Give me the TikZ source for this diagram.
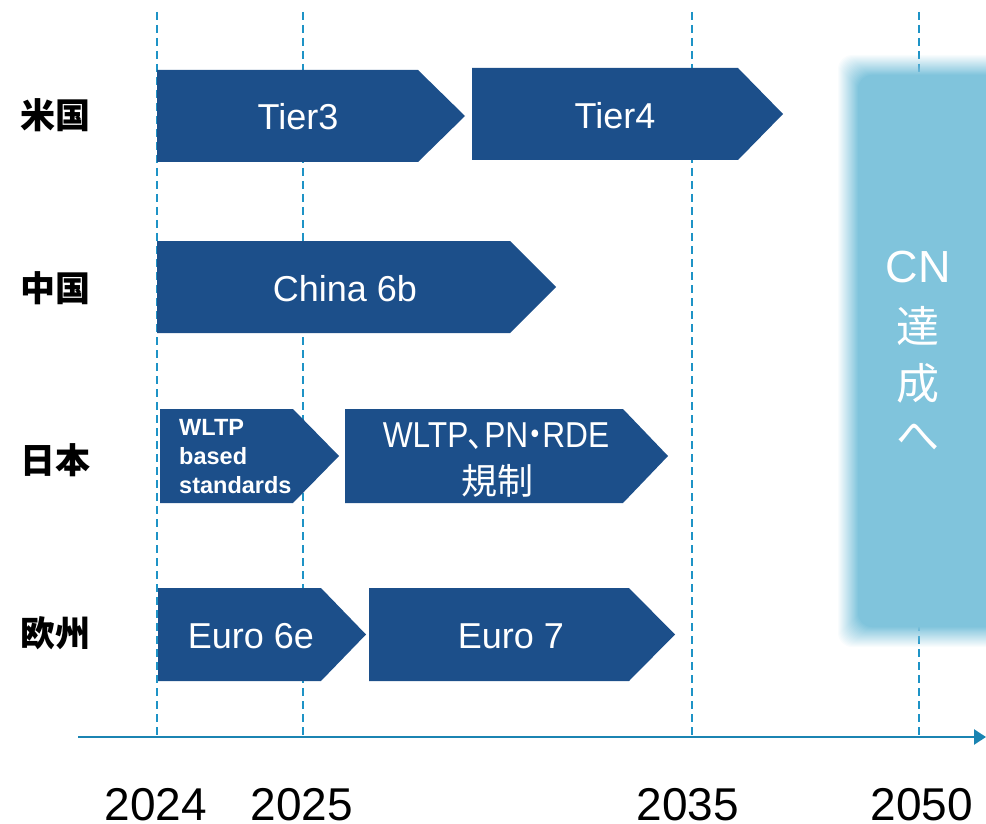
\documentclass[tikz,border=0pt]{standalone}
\usepackage{fontspec}
\usepackage{graphicx}
\setmainfont{Liberation Sans}
\newfontfamily\jpfont{Noto Sans CJK JP}
\usetikzlibrary{arrows.meta}

\definecolor{navy}{HTML}{1C4F8A}
\definecolor{cnblue}{HTML}{80C4DC}
\definecolor{guide}{HTML}{1E93C6}

\begin{document}
\begin{tikzpicture}[x=1pt,y=-1pt,
  chevron/.style={fill=navy,draw=none},
  guideline/.style={draw=guide,line width=1.4pt,dash pattern=on 8pt off 5pt},
  axisline/.style={draw=guide!90!black,line width=2.6pt,-{Triangle[length=12pt,width=15pt]}},
  bigtext/.style={text=white,inner sep=0pt,font=\fontsize{36}{40}\selectfont},
  smalltext/.style={text=white,inner sep=0pt,align=left,font=\fontsize{23.5}{29}\selectfont\bfseries},
  region/.style={inner sep=0pt,font=\jpfont\bfseries\fontsize{35}{40}\selectfont},
  year/.style={inner sep=0pt,font=\fontsize{46}{50}\selectfont},
  cntext/.style={text=white,inner sep=0pt,font=\fontsize{45}{50}\selectfont},
  cnjp/.style={text=white,inner sep=0pt,font=\jpfont\fontsize{43}{48}\selectfont}]
\useasboundingbox (0,0) rectangle (986,824);
\clip (0,0) rectangle (986,824);

% year labels and guide coordinates
\node[year] (y2024) at (156,805) {2024};
\node[year] (y2025) at (302,805) {2025};
\node[year] (y2035) at (688,805) {2035};
\node[year] (y2050) at (922,805) {2050};
\coordinate (t2024) at (157,12);  \coordinate (b2024) at (157,735);
\coordinate (t2025) at (303,12);  \coordinate (b2025) at (303,735);
\coordinate (t2035) at (692,12);  \coordinate (b2035) at (692,735);
\coordinate (t2050) at (919,12);  \coordinate (b2050) at (919,735);
\foreach \yr in {2024,2025,2035,2050}
  \draw[guideline] (t\yr) -- (b\yr);

% time axis
\coordinate (axstart) at (78,737);
\coordinate (axend) at (986,737);
\draw[axisline] (axstart) -- (axend);

% regulation chevrons
\fill[chevron] (157,70) -- (418,70) -- (465,116) -- (418,162) -- (157,162) -- cycle;
\fill[chevron] (472,68) -- (738,68) -- (783,114) -- (738,160) -- (472,160) -- cycle;
\fill[chevron] (157,241) -- (510,241) -- (556,287) -- (510,333) -- (157,333) -- cycle;
\fill[chevron] (160,409) -- (293,409) -- (339,456) -- (293,503) -- (160,503) -- cycle;
\fill[chevron] (345,409) -- (623,409) -- (668,456) -- (623,503) -- (345,503) -- cycle;
\fill[chevron] (158,588) -- (321,588) -- (366,634.5) -- (321,681) -- (158,681) -- cycle;
\fill[chevron] (369,588) -- (629,588) -- (675,634.5) -- (629,681) -- (369,681) -- cycle;

\node[bigtext] (tier3) at (298,117) {Tier3};
\node[bigtext] (tier4) at (615,116) {Tier4};
\node[bigtext] (china) at (345,289) {China 6b};
\node[smalltext,anchor=west] (wltpa) at (179,457) {WLTP\\based\\standards};
\node[bigtext] (wltpb) at (496,436)
  {\scalebox{0.88}[1]{WLTP\kern-1pt{\jpfont 、}\kern-17pt PN\kern-10pt{\jpfont ・}\kern-10pt RDE}};
\node[bigtext] (kisei) at (497,481) {\jpfont 規制};
\node[bigtext] (euro6) at (251,636) {Euro 6e};
\node[bigtext] (euro7) at (511,636) {Euro 7};

% carbon neutrality block with soft edges (linear opacity ramp)
\foreach \d [evaluate=\d as \op using 1/(11-\d)] in {-10,...,10}
  \fill[cnblue,opacity=\op,rounded corners=14pt] (848+\d,65+\d) rectangle (1010,637-\d);
\node[cntext] (cn) at (918,267) {CN};
\node[cnjp] (cn1) at (918,326) {達};
\node[cnjp] (cn2) at (918,383) {成};
\node[cnjp] (cn3) at (918,437) {へ};

% region labels
\node[region] (us) at (55,115) {米国};
\node[region] (cnr) at (55,288) {中国};
\node[region] (jp) at (55,460) {日本};
\node[region] (eu) at (55,633) {欧州};
\end{tikzpicture}
\end{document}
